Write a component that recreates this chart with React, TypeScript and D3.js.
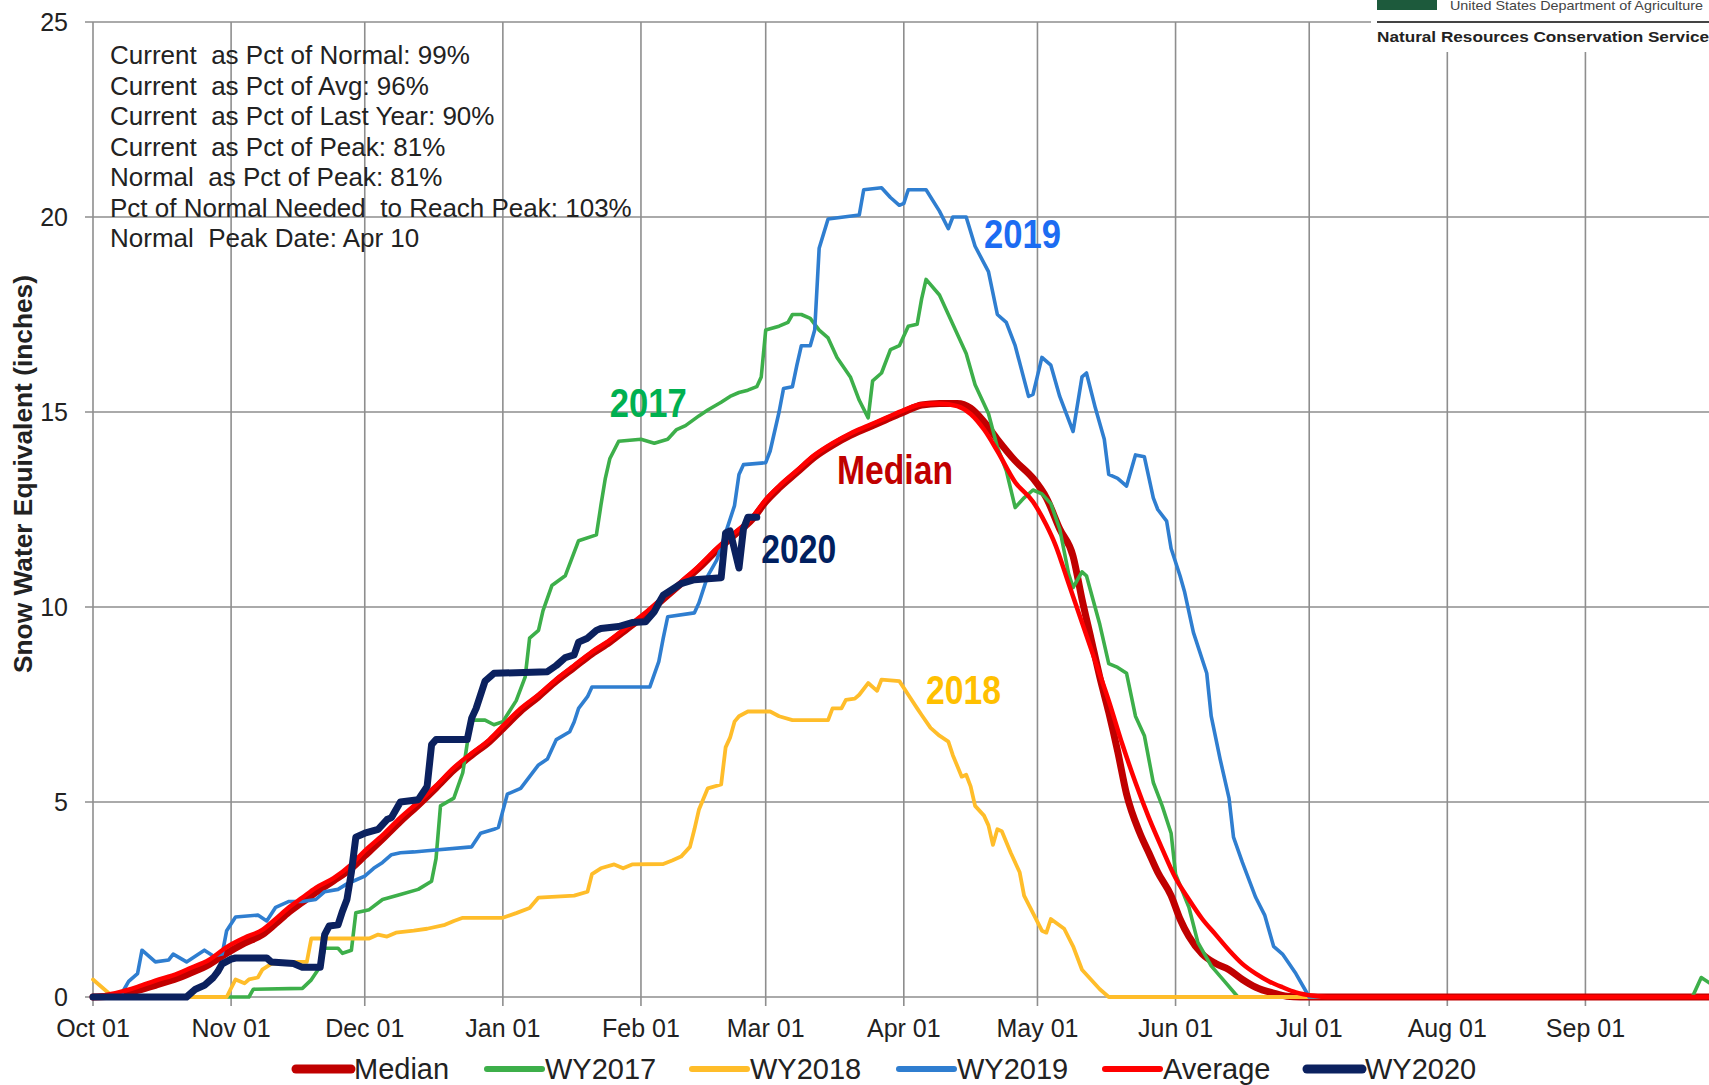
import React from "react";
import * as d3 from "d3";

// water year dates as "MM-DD" (Oct-Dec fall in the first calendar year)
const median: [string, number][] = [
  ["10-01", 0], ["10-06", 0.04], ["10-11", 0.17], ["10-15", 0.3], ["10-20", 0.48], ["10-23", 0.62],
  ["10-27", 0.83], ["10-31", 1.12], ["11-04", 1.38], ["11-08", 1.6], ["11-11", 1.88], ["11-14", 2.18],
  ["11-17", 2.43], ["11-20", 2.68], ["11-24", 2.98], ["11-28", 3.3], ["12-01", 3.62], ["12-05", 4.05],
  ["12-09", 4.5], ["12-13", 4.92], ["12-17", 5.36], ["12-21", 5.82], ["12-25", 6.2], ["12-29", 6.55],
  ["01-01", 6.88], ["01-05", 7.33], ["01-09", 7.7], ["01-13", 8.1], ["01-17", 8.45], ["01-21", 8.8],
  ["01-25", 9.1], ["01-29", 9.45], ["02-02", 9.8], ["02-06", 10.2], ["02-10", 10.6], ["02-14", 11.0],
  ["02-18", 11.45], ["02-22", 11.85], ["02-26", 12.25], ["03-01", 12.7], ["03-04", 13.05], ["03-08", 13.45],
  ["03-12", 13.85], ["03-16", 14.15], ["03-20", 14.4], ["03-24", 14.6], ["03-28", 14.8], ["04-01", 15.0],
  ["04-05", 15.18], ["04-09", 15.22], ["04-13", 15.22], ["04-16", 15.1], ["04-19", 14.75], ["04-22", 14.3],
  ["04-26", 13.75], ["04-30", 13.3], ["05-03", 12.8], ["05-06", 12.0], ["05-09", 11.3], ["05-11", 10.2],
  ["05-13", 9.2], ["05-15", 8.2], ["05-17", 7.3], ["05-19", 6.3], ["05-21", 5.2], ["05-24", 4.2],
  ["05-26", 3.7], ["05-28", 3.2], ["05-31", 2.6], ["06-02", 2.0], ["06-04", 1.55], ["06-07", 1.1],
  ["06-10", 0.86], ["06-13", 0.7], ["06-16", 0.45], ["06-19", 0.25], ["06-23", 0.1], ["06-26", 0.02],
  ["06-29", 0], ["09-30", 0],
];

const average: [string, number][] = [
  ["10-01", 0], ["10-06", 0.1], ["10-11", 0.26], ["10-15", 0.42], ["10-20", 0.6], ["10-23", 0.75],
  ["10-27", 0.95], ["10-31", 1.28], ["11-04", 1.52], ["11-08", 1.72], ["11-11", 2.0], ["11-14", 2.3],
  ["11-17", 2.55], ["11-20", 2.8], ["11-24", 3.05], ["11-28", 3.4], ["12-01", 3.75], ["12-05", 4.15],
  ["12-09", 4.6], ["12-13", 5.0], ["12-17", 5.42], ["12-21", 5.88], ["12-25", 6.25], ["12-29", 6.6],
  ["01-01", 6.95], ["01-05", 7.4], ["01-09", 7.75], ["01-13", 8.15], ["01-17", 8.5], ["01-21", 8.85],
  ["01-25", 9.15], ["01-29", 9.5], ["02-02", 9.85], ["02-06", 10.25], ["02-10", 10.65], ["02-14", 11.05],
  ["02-18", 11.5], ["02-22", 11.9], ["02-26", 12.3], ["03-01", 12.75], ["03-04", 13.1], ["03-08", 13.5],
  ["03-12", 13.9], ["03-16", 14.2], ["03-20", 14.45], ["03-24", 14.65], ["03-28", 14.85], ["04-01", 15.05],
  ["04-05", 15.2], ["04-09", 15.22], ["04-13", 15.15], ["04-16", 14.95], ["04-19", 14.55], ["04-22", 14.0],
  ["04-26", 13.2], ["04-30", 12.7], ["05-03", 12.1], ["05-05", 11.6], ["05-08", 10.6], ["05-11", 9.6],
  ["05-14", 8.6], ["05-17", 7.6], ["05-20", 6.5], ["05-23", 5.5], ["05-26", 4.6], ["05-29", 3.8],
  ["06-01", 3.05], ["06-04", 2.5], ["06-07", 2.0], ["06-10", 1.6], ["06-13", 1.2], ["06-16", 0.85],
  ["06-19", 0.6], ["06-22", 0.4], ["06-25", 0.25], ["06-28", 0.12], ["07-02", 0.03], ["07-05", 0],
  ["09-30", 0],
];

const wy2017: [string, number][] = [
  ["10-01", 0], ["11-05", 0], ["11-06", 0.2], ["11-17", 0.22], ["11-19", 0.44], ["11-21", 0.78],
  ["11-22", 1.25], ["11-25", 1.25], ["11-26", 1.12], ["11-28", 1.2], ["11-29", 2.16], ["12-02", 2.24],
  ["12-05", 2.5], ["12-09", 2.63], ["12-13", 2.76], ["12-16", 2.97], ["12-17", 3.55], ["12-18", 4.9],
  ["12-21", 5.1], ["12-23", 5.75], ["12-24", 6.5], ["12-25", 7.1], ["12-28", 7.1], ["12-30", 6.98],
  ["01-01", 7.06], ["01-04", 7.6], ["01-06", 8.2], ["01-07", 9.2], ["01-09", 9.4], ["01-10", 9.9],
  ["01-12", 10.55], ["01-15", 10.8], ["01-18", 11.7], ["01-22", 11.85], ["01-23", 12.6], ["01-24", 13.3],
  ["01-25", 13.8], ["01-27", 14.25], ["02-01", 14.3], ["02-04", 14.2], ["02-07", 14.3], ["02-09", 14.55],
  ["02-11", 14.65], ["02-14", 14.9], ["02-16", 15.05], ["02-19", 15.25], ["02-21", 15.4], ["02-23", 15.5],
  ["02-25", 15.56], ["02-27", 15.65], ["02-28", 15.9], ["03-01", 17.1], ["03-04", 17.2], ["03-06", 17.3],
  ["03-07", 17.5], ["03-09", 17.5], ["03-11", 17.4], ["03-13", 17.1], ["03-15", 16.9], ["03-17", 16.4],
  ["03-20", 15.9], ["03-22", 15.3], ["03-24", 14.85], ["03-25", 15.8], ["03-27", 16.0], ["03-29", 16.6],
  ["03-31", 16.7], ["04-02", 17.2], ["04-04", 17.25], ["04-05", 17.9], ["04-06", 18.4], ["04-09", 18.0],
  ["04-11", 17.5], ["04-13", 17.0], ["04-15", 16.5], ["04-17", 15.7], ["04-20", 14.96], ["04-22", 14.1],
  ["04-24", 13.5], ["04-26", 12.55], ["04-28", 12.8], ["04-30", 13.0], ["05-02", 12.9], ["05-04", 12.65],
  ["05-06", 12.0], ["05-08", 10.85], ["05-09", 10.5], ["05-11", 10.9], ["05-12", 10.8], ["05-15", 9.55],
  ["05-17", 8.55], ["05-19", 8.45], ["05-21", 8.3], ["05-23", 7.2], ["05-25", 6.7], ["05-27", 5.5],
  ["05-29", 4.9], ["05-31", 4.2], ["06-01", 3.15], ["06-04", 2.3], ["06-06", 1.4], ["06-09", 0.8],
  ["06-12", 0.4], ["06-15", 0], ["09-25", 0], ["09-27", 0.5], ["09-29", 0.35], ["09-30", 0.4],
];

const wy2018: [string, number][] = [
  ["10-01", 0.45], ["10-03", 0.25], ["10-05", 0.05], ["10-06", 0], ["10-31", 0], ["11-02", 0.45],
  ["11-04", 0.35], ["11-05", 0.45], ["11-07", 0.5], ["11-08", 0.7], ["11-10", 0.85], ["11-16", 0.9],
  ["11-18", 0.9], ["11-19", 1.5], ["12-02", 1.5], ["12-04", 1.6], ["12-06", 1.55], ["12-08", 1.65],
  ["12-12", 1.7], ["12-15", 1.75], ["12-19", 1.85], ["12-21", 1.95], ["12-23", 2.03], ["01-01", 2.03],
  ["01-04", 2.15], ["01-07", 2.28], ["01-09", 2.55], ["01-17", 2.6], ["01-20", 2.7], ["01-21", 3.15],
  ["01-23", 3.3], ["01-26", 3.4], ["01-28", 3.3], ["01-30", 3.4], ["02-06", 3.41], ["02-08", 3.5],
  ["02-10", 3.6], ["02-12", 3.85], ["02-13", 4.3], ["02-14", 4.8], ["02-16", 5.35], ["02-19", 5.45],
  ["02-20", 6.4], ["02-21", 6.65], ["02-22", 7.06], ["02-23", 7.2], ["02-25", 7.32], ["03-02", 7.32],
  ["03-04", 7.2], ["03-07", 7.1], ["03-15", 7.1], ["03-16", 7.4], ["03-18", 7.4], ["03-19", 7.62],
  ["03-21", 7.65], ["03-22", 7.75], ["03-24", 8.05], ["03-26", 7.85], ["03-27", 8.14], ["03-31", 8.1],
  ["04-02", 7.75], ["04-04", 7.4], ["04-05", 7.23], ["04-07", 6.9], ["04-09", 6.7], ["04-11", 6.55],
  ["04-12", 6.2], ["04-14", 5.65], ["04-15", 5.7], ["04-16", 5.4], ["04-17", 4.9], ["04-19", 4.65],
  ["04-20", 4.4], ["04-21", 3.9], ["04-22", 4.3], ["04-23", 4.25], ["04-25", 3.7], ["04-27", 3.2],
  ["04-28", 2.6], ["04-30", 2.15], ["05-02", 1.7], ["05-03", 1.65], ["05-04", 2.0], ["05-07", 1.75],
  ["05-09", 1.3], ["05-11", 0.7], ["05-13", 0.45], ["05-15", 0.2], ["05-17", 0], ["09-30", 0],
];

const wy2019: [string, number][] = [
  ["10-01", 0], ["10-07", 0], ["10-09", 0.4], ["10-11", 0.6], ["10-12", 1.2], ["10-15", 0.9],
  ["10-18", 0.95], ["10-19", 1.1], ["10-22", 0.9], ["10-26", 1.2], ["10-28", 1.05], ["10-30", 1.1],
  ["10-31", 1.7], ["11-02", 2.05], ["11-07", 2.1], ["11-09", 1.95], ["11-11", 2.3], ["11-14", 2.45],
  ["11-17", 2.45], ["11-20", 2.5], ["11-22", 2.7], ["11-25", 2.76], ["11-27", 2.9], ["11-29", 3.0],
  ["12-01", 3.1], ["12-03", 3.3], ["12-05", 3.45], ["12-07", 3.65], ["12-09", 3.7], ["12-12", 3.72],
  ["12-15", 3.75], ["12-25", 3.85], ["12-27", 4.2], ["12-30", 4.3], ["12-31", 4.35], ["01-02", 5.2],
  ["01-05", 5.35], ["01-07", 5.65], ["01-09", 5.95], ["01-11", 6.1], ["01-13", 6.6], ["01-16", 6.8],
  ["01-17", 7.05], ["01-18", 7.4], ["01-20", 7.7], ["01-21", 7.95], ["02-03", 7.95], ["02-05", 8.6],
  ["02-06", 9.2], ["02-07", 9.75], ["02-13", 9.85], ["02-14", 10.1], ["02-16", 10.8], ["02-18", 11.2],
  ["02-20", 11.9], ["02-22", 12.6], ["02-23", 13.4], ["02-24", 13.65], ["03-01", 13.7], ["03-02", 14.0],
  ["03-04", 15.0], ["03-05", 15.6], ["03-07", 15.65], ["03-08", 16.2], ["03-09", 16.7], ["03-11", 16.7],
  ["03-12", 17.1], ["03-13", 19.2], ["03-15", 19.95], ["03-22", 20.05], ["03-23", 20.7], ["03-27", 20.75],
  ["03-29", 20.5], ["03-31", 20.3], ["04-01", 20.35], ["04-02", 20.7], ["04-06", 20.7], ["04-09", 20.15],
  ["04-11", 19.7], ["04-12", 20.0], ["04-15", 20.0], ["04-17", 19.25], ["04-20", 18.6], ["04-22", 17.5],
  ["04-24", 17.3], ["04-26", 16.7], ["04-29", 15.4], ["04-30", 15.45], ["05-02", 16.4], ["05-04", 16.2],
  ["05-06", 15.4], ["05-09", 14.5], ["05-11", 15.9], ["05-12", 16.0], ["05-14", 15.1], ["05-16", 14.3],
  ["05-17", 13.4], ["05-19", 13.3], ["05-21", 13.1], ["05-23", 13.9], ["05-25", 13.85], ["05-27", 12.8],
  ["05-28", 12.5], ["05-30", 12.2], ["05-31", 11.5], ["06-02", 10.8], ["06-03", 10.4], ["06-05", 9.35],
  ["06-08", 8.3], ["06-09", 7.2], ["06-11", 6.1], ["06-13", 5.1], ["06-14", 4.1], ["06-16", 3.45],
  ["06-17", 3.15], ["06-19", 2.55], ["06-21", 2.1], ["06-23", 1.3], ["06-25", 1.1], ["06-28", 0.6],
  ["07-01", 0], ["09-30", 0],
];

const wy2020: [string, number][] = [
  ["10-01", 0], ["10-22", 0], ["10-24", 0.2], ["10-26", 0.3], ["10-28", 0.5], ["10-29", 0.65],
  ["10-30", 0.85], ["11-01", 0.97], ["11-02", 1.0], ["11-09", 1.0], ["11-10", 0.9], ["11-15", 0.86],
  ["11-17", 0.76], ["11-21", 0.76], ["11-22", 1.6], ["11-23", 1.82], ["11-25", 1.85], ["11-26", 2.2],
  ["11-27", 2.5], ["11-28", 3.2], ["11-29", 4.1], ["12-01", 4.2], ["12-04", 4.3], ["12-06", 4.55],
  ["12-07", 4.6], ["12-09", 5.0], ["12-13", 5.06], ["12-15", 5.4], ["12-16", 6.47], ["12-17", 6.6],
  ["12-24", 6.6], ["12-25", 7.15], ["12-26", 7.4], ["12-28", 8.1], ["12-30", 8.3], ["01-11", 8.34],
  ["01-13", 8.5], ["01-15", 8.7], ["01-17", 8.77], ["01-18", 9.1], ["01-20", 9.2], ["01-22", 9.4],
  ["01-23", 9.45], ["01-27", 9.5], ["01-30", 9.6], ["02-02", 9.62], ["02-04", 9.88], ["02-05", 10.1],
  ["02-06", 10.3], ["02-08", 10.45], ["02-10", 10.6], ["02-13", 10.7], ["02-19", 10.75], ["02-20", 11.9],
  ["02-21", 11.95], ["02-23", 11.0], ["02-24", 12.0], ["02-25", 12.3], ["02-27", 12.3],
];

const statLines = [
  "Current  as Pct of Normal: 99%",
  "Current  as Pct of Avg: 96%",
  "Current  as Pct of Last Year: 90%",
  "Current  as Pct of Peak: 81%",
  "Normal  as Pct of Peak: 81%",
  "Pct of Normal Needed  to Reach Peak: 103%",
  "Normal  Peak Date: Apr 10",
];

const yTicks = [0, 5, 10, 15, 20, 25];

// name, data, colour, width (draw order = legend order)
const series = [
  { name: "Median", data: median, color: "#c00000", width: 7, curve: true },
  { name: "WY2017", data: wy2017, color: "#3daf4a", width: 3.6, curve: false },
  { name: "WY2018", data: wy2018, color: "#ffbd2a", width: 3.8, curve: false },
  { name: "WY2019", data: wy2019, color: "#2f7ed0", width: 3.6, curve: false },
  { name: "Average", data: average, color: "#ff0000", width: 4.5, curve: true },
  { name: "WY2020", data: wy2020, color: "#0b215f", width: 7, curve: false },
];

// in-chart labels anchored at (date, value) of their lower-left corner
const labels = [
  { text: "2019", at: "04-19", v: 19.2, color: "#1c6cf2", len: 77 },
  { text: "2017", at: "01-25", v: 14.87, color: "#00b050", len: 77 },
  { text: "Median", at: "03-17", v: 13.15, color: "#c00000", len: 116 },
  { text: "2020", at: "02-28", v: 11.13, color: "#002060", len: 75 },
  { text: "2018", at: "04-06", v: 7.51, color: "#ffc000", len: 75 },
];

const legendX = [296, 487, 692, 899, 1105, 1307];

const toDate = (s: string) => {
  const [m, d] = s.split("-").map(Number);
  return new Date(Date.UTC(m >= 10 ? 2018 : 2019, m - 1, d));
};

export default function App() {
  const width = 1709;
  const height = 1085;
  const font = "'Liberation Sans', Arial, sans-serif";

  const start = new Date(Date.UTC(2018, 9, 1));
  const end = new Date(Date.UTC(2019, 9, 1));
  const x = d3.scaleUtc().domain([start, end]).range([93, 93 + 365 * 4.455]);
  const y = d3.scaleLinear().domain([0, 25]).range([997, 22]);
  const months = d3.utcMonth.range(start, end);
  const fmt = d3.utcFormat("%b %d");

  const line = (curve: boolean) =>
    d3.line<[string, number]>()
      .x(d => x(toDate(d[0])))
      .y(d => y(d[1]))
      .curve(curve ? d3.curveMonotoneX : d3.curveLinear);

  const grid = "#8e8e8e";

  return (
    <svg width={width} height={height} style={{ position: "absolute", left: 0, top: 0, background: "#fff" }}
      fontFamily={font}>
      <rect width={width} height={height} fill="#fff" />

      {/* gridlines */}
      {yTicks.map(t => (
        <line key={"h" + t} x1={85} x2={width} y1={y(t)} y2={y(t)} stroke={grid} strokeWidth={1.6} />
      ))}
      {months.map((m, i) => (
        <line key={"v" + i} x1={x(m)} x2={x(m)} y1={y(25)} y2={y(0) + 9} stroke={grid} strokeWidth={1.6} />
      ))}

      {/* logo area */}
      <rect x={1371} y={0} width={338} height={52} fill="#fff" />
      <rect x={1377} y={-20} width={60} height={30} fill="#1d5a3c" />
      <text x={1450} y={10} fontSize={13} fill="#444" textLength={253} lengthAdjust="spacingAndGlyphs">
        United States Department of Agriculture
      </text>
      <line x1={1377} x2={width} y1={22} y2={22} stroke="#444" strokeWidth={2} />
      <text x={1377} y={42} fontSize={15} fontWeight="bold" fill="#222" textLength={332} lengthAdjust="spacingAndGlyphs">
        Natural Resources Conservation Service
      </text>

      {/* series */}
      {series.map(s => (
        <path key={s.name} d={line(s.curve)(s.data) || ""} fill="none" stroke={s.color}
          strokeWidth={s.width} strokeLinejoin="round" strokeLinecap="round" />
      ))}

      {/* axis labels */}
      {yTicks.map(t => (
        <text key={"yl" + t} x={68} y={y(t)} dy="0.36em" textAnchor="end" fontSize={25} fill="#222">{t}</text>
      ))}
      {months.map((m, i) => (
        <text key={"xl" + i} x={x(m)} y={1037} textAnchor="middle" fontSize={25} fill="#222">{fmt(m)}</text>
      ))}
      <text transform="translate(32,474) rotate(-90)" textAnchor="middle" fontSize={26} fontWeight="bold" fill="#222"
        textLength={398} lengthAdjust="spacingAndGlyphs">
        Snow Water Equivalent (inches)
      </text>

      {/* stats block */}
      {statLines.map((s, i) => (
        <text key={"st" + i} x={110} y={64 + i * 30.5} fontSize={26} fill="#222" style={{ whiteSpace: "pre" }}>{s}</text>
      ))}

      {/* series labels */}
      {labels.map(l => (
        <text key={l.text} x={x(toDate(l.at))} y={y(l.v)} fontSize={40} fontWeight="bold" fill={l.color}
          textLength={l.len} lengthAdjust="spacingAndGlyphs">{l.text}</text>
      ))}

      {/* legend */}
      {series.map((s, i) => (
        <g key={"lg" + s.name} transform={`translate(${legendX[i]},1069)`}>
          <line x1={0} x2={55} y1={0} y2={0} stroke={s.color} strokeWidth={s.width >= 6 ? 9 : 6} strokeLinecap="round" />
          <text x={58} y={0} dy="0.36em" fontSize={29} fill="#222">{s.name}</text>
        </g>
      ))}
    </svg>
  );
}
